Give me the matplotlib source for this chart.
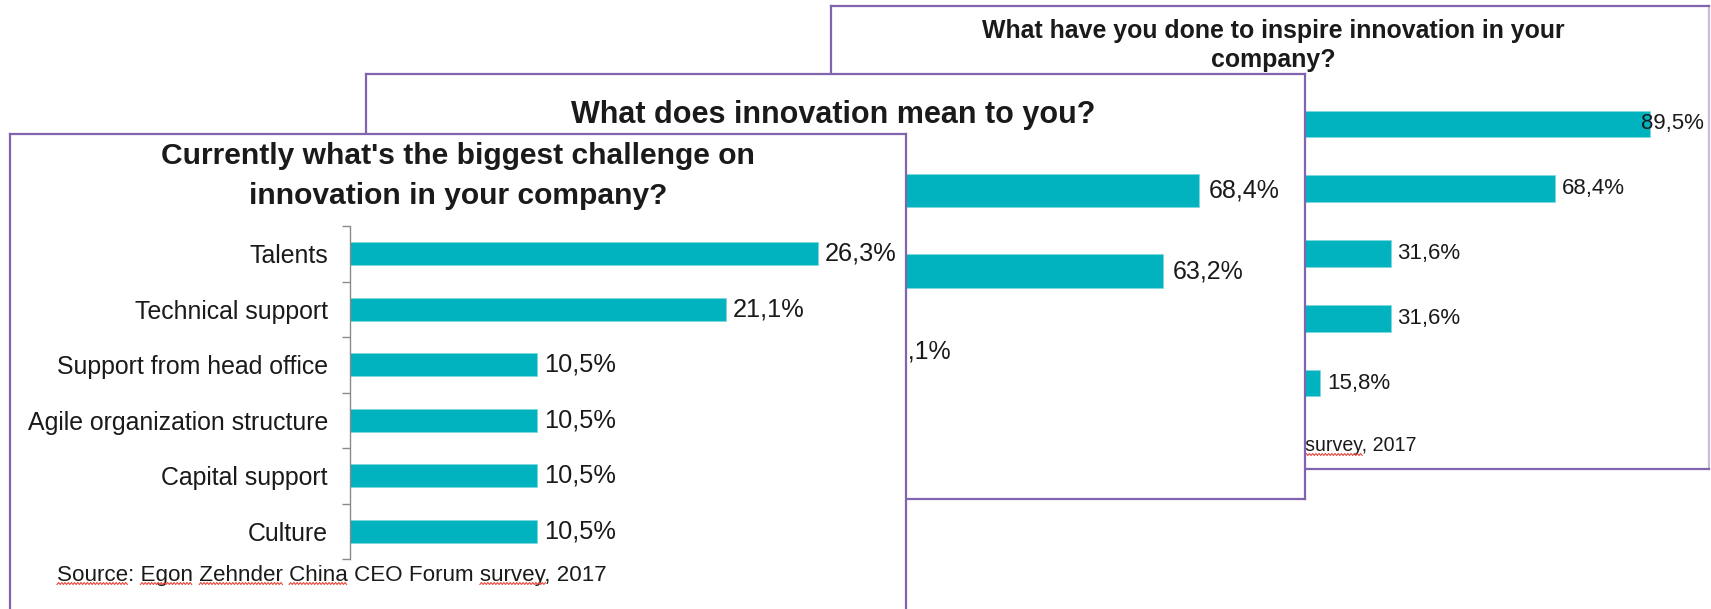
import matplotlib
matplotlib.use("Agg")
import matplotlib.pyplot as plt
from matplotlib.lines import Line2D

# ---------------- data ----------------
p1_title = ["Currently what's the biggest challenge on", "innovation in your company?"]
p1_categories = ["Talents", "Technical support", "Support from head office",
                 "Agile organization structure", "Capital support", "Culture"]
p1_values = [26.3, 21.1, 10.5, 10.5, 10.5, 10.5]
p1_source = "Source: Egon Zehnder China CEO Forum survey, 2017"

p2_title = ["What does innovation mean to you?"]
p2_values = [68.4, 63.2, 21.1]

p3_title = ["What have you done to inspire innovation in your", "company?"]
p3_values = [89.5, 68.4, 31.6, 31.6, 15.8]
p3_source = "Source: Egon Zehnder China CEO Forum survey, 2017"

spell_words = ["Source", "Egon", "Zehnder", "China", "survey"]

# ---------------- style ----------------
W, H = 1711, 609
TEAL = "#00B3BF"
PURPLE = "#8064AE"
TEXT = "#1A1A1A"
plt.rcParams["font.family"] = ["Liberation Sans", "DejaVu Sans"]

fig = plt.figure(figsize=(W / 100, H / 100), dpi=100)
fig.patch.set_facecolor("white")


def rect(l, t, r, b):
    return [l / W, 1 - b / H, (r - l) / W, (b - t) / H]


def frame(l, t, r, b, z, right_color=None):
    ax = fig.add_axes(rect(l, t, r, b), zorder=z)
    ax.set_facecolor("white")
    ax.set_xticks([]); ax.set_yticks([])
    ax.set_xlim(l, r); ax.set_ylim(b, t)
    for s in ax.spines.values():
        s.set_color(PURPLE)
        s.set_linewidth(1.6)
    if right_color:
        ax.spines["right"].set_color(right_color)
    return ax


def bars(l, t, ppu, xmax, b, z, values, fs, off_px, labels=None, show_axis=False):
    r = l + xmax * ppu
    ax = fig.add_axes(rect(l, t, r, b), zorder=z)
    ax.patch.set_alpha(0)
    n = len(values)
    pos = list(range(n))
    ax.barh(pos, values, height=0.41, color=TEAL, edgecolor="#7FD9DF", linewidth=0.6)
    ax.set_xlim(0, xmax)
    ax.set_ylim(n - 0.5, -0.5)
    for s in ["top", "right", "bottom"]:
        ax.spines[s].set_visible(False)
    ax.set_xticks([])
    if show_axis:
        ax.spines["left"].set_color("#8A8A8A")
        ax.spines["left"].set_linewidth(1.0)
        ax.set_yticks(pos)
        ax.set_yticklabels(labels, fontsize=17.9, color=TEXT)
        ax.tick_params(axis="y", which="major", length=0, pad=16)
        ax.set_yticks([i - 0.5 for i in range(n + 1)], minor=True)
        ax.tick_params(axis="y", which="minor", length=6, width=1.0, color="#8A8A8A")
    else:
        ax.spines["left"].set_visible(False)
        ax.set_yticks([])
    label_w = 2.85 * fs / 0.72 / ppu   # approx label width in data units
    off = off_px / ppu
    for i, v in enumerate(values):
        lbl = f"{v:.1f}".replace(".", ",") + "%"
        x, ha = v + off, "left"
        if x + label_w > xmax:
            x, ha = xmax, "right"
        ax.text(x, i, lbl, va="center", ha=ha, fontsize=fs, color=TEXT)
    return ax


def squiggles(ax, txt, words):
    fig.canvas.draw()
    rnd = fig.canvas.get_renderer()
    bb = txt.get_window_extent(rnd)
    s = txt.get_text()
    fp = txt.get_fontproperties()
    _, _, desc = rnd.get_text_width_height_descent(s, fp, ismath=False)
    base = bb.y0 + desc
    y0 = base - 3.0
    for w in words:
        i = s.index(w)
        x0 = bb.x0 + (rnd.get_text_width_height_descent(s[:i], fp, ismath=False)[0] if i else 0)
        ww = rnd.get_text_width_height_descent(w, fp, ismath=False)[0]
        xs, ys = [], []
        k = 0
        x = x0
        while x <= x0 + ww:
            xs.append(x / W)
            ys.append((y0 + (1.0 if k % 2 else -1.0)) / H)
            x += 1.6
            k += 1
        ln = Line2D(xs, ys, transform=fig.transFigure, color="#E5473A",
                    linewidth=0.8, zorder=10)
        ax.add_line(ln)


# ---------------- panel 3 (back) ----------------
f3 = frame(831, 6, 1709, 469, 1, right_color="#C9BBDD")
for k, line in enumerate(p3_title):
    f3.text(1273, 31 + k * 29.5, line, ha="center", va="center",
            fontsize=17.9, fontweight="bold", color=TEXT)
t3 = f3.text(1416, 446, p3_source, ha="right", va="center", fontsize=14.1, color=TEXT)
bars(1249, 91.6, 4.478, 101.6, 415.4, 2, p3_values, 16.0, 7)

# ---------------- panel 2 (middle) ----------------
f2 = frame(366, 74, 1305, 499, 3)
f2.text(833, 115, p2_title[0], ha="center", va="center",
        fontsize=22.0, fontweight="bold", color=TEXT)
bars(726, 150.25, 6.92, 82, 391.75, 4, p2_values, 18.0, 9)

# ---------------- panel 1 (front) ----------------
f1 = frame(10, 134, 906, 640, 5)
for k, line in enumerate(p1_title):
    f1.text(458, 156 + k * 40, line, ha="center", va="center",
            fontsize=21.6, fontweight="bold", color=TEXT)
t1 = f1.text(57, 575, p1_source, ha="left", va="center", fontsize=16.1, color=TEXT)
bars(350, 226, 17.8, 31.5, 559, 6, p1_values, 18.3, 7,
     labels=p1_categories, show_axis=True)

squiggles(f3, t3, spell_words)
squiggles(f1, t1, spell_words)

fig.savefig("out.png", dpi=100, facecolor="white")
